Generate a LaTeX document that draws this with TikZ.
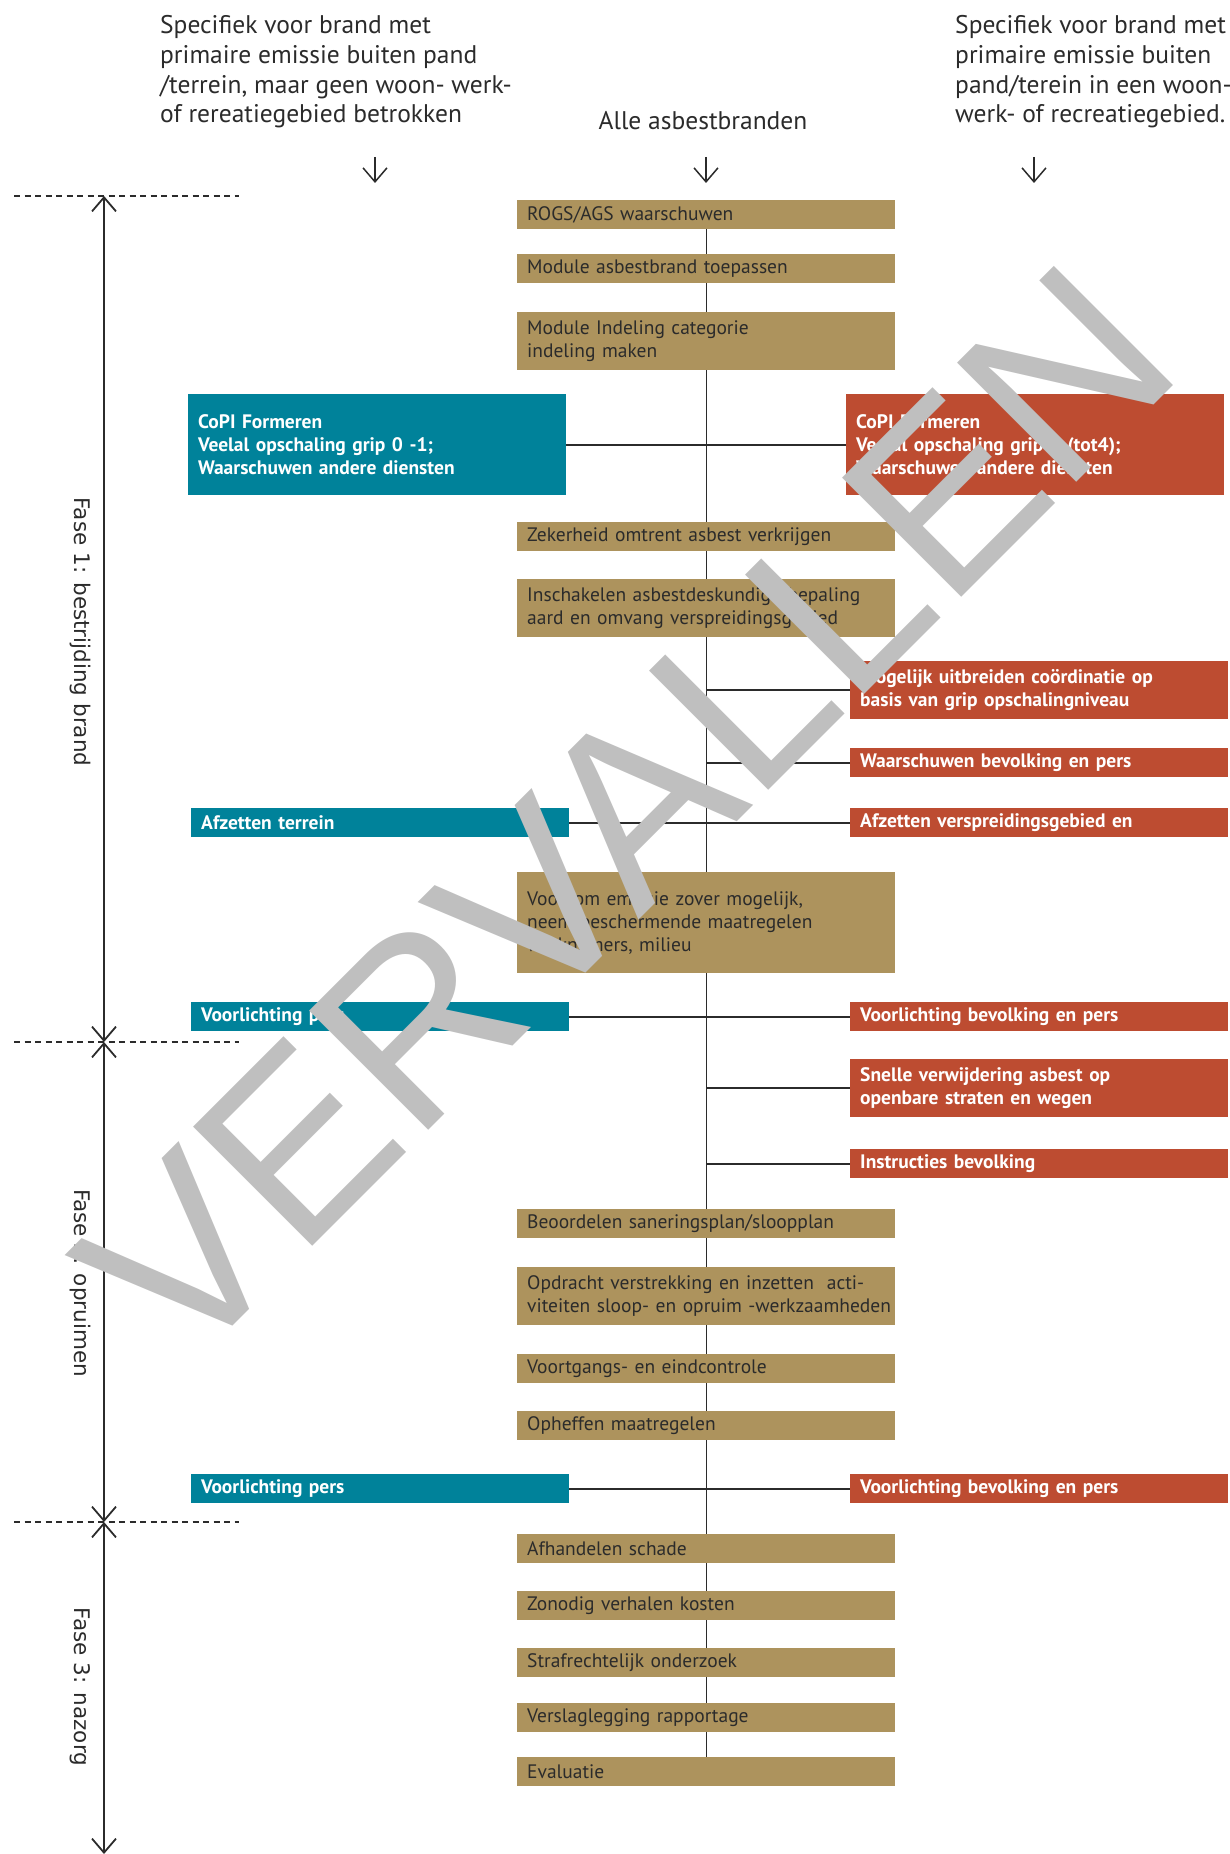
\documentclass[tikz,border=0pt]{standalone}
\usepackage{fontspec}
\setmainfont{PT Sans}
\newfontfamily\fasefont{DejaVu Sans}
\newfontfamily\stempelfont{Liberation Sans}
\usetikzlibrary{arrows.meta, positioning, backgrounds}

\definecolor{goud}{HTML}{AD935D}
\definecolor{petrol}{HTML}{00829A}
\definecolor{steen}{HTML}{BD4C31}
\definecolor{tekst}{HTML}{2B2B2B}
\definecolor{stempel}{HTML}{BFBFBF}

\tikzset{
  blok/.style={anchor=north west, inner xsep=10pt, inner ysep=0pt, text width=358pt,
    align=left, minimum height=29pt, font=\fontsize{19.5}{23}\selectfont},
  goudblok/.style={blok, fill=goud, text=tekst},
  petrolblok/.style={blok, fill=petrol, text=white, font=\bfseries\fontsize{19.5}{23}\selectfont},
  steenblok/.style={blok, fill=steen, text=white, font=\bfseries\fontsize{19.5}{23}\selectfont},
  hoofdlijn/.style={draw=tekst, line width=1.3pt},
  lijn/.style={draw=tekst, line width=2pt},
  faselijn/.style={draw=tekst, line width=1.2pt, dash pattern=on 6pt off 4.5pt},
  faselabel/.style={font=\fasefont\fontsize{21.5}{24}\selectfont, rotate=-90, text=tekst},
  kop/.style={font=\fontsize{25.5}{29.6}\selectfont, text=tekst, align=left, inner sep=0pt},
}

\begin{document}
\begin{tikzpicture}[x=1pt, y=-1pt, >={Straight Barb[length=14pt, width=24pt]}]
    \useasboundingbox (0,0) rectangle (1230,1854);

    % Koppen
    \node[kop, anchor=west] (kop-l) at (160,72) {Specifiek voor brand met\\primaire emissie buiten pand\\/terrein, maar geen woon- werk-\\of rereatiegebied betrokken};
    \node[kop, anchor=center] (kop-m) at (703,121) {Alle asbestbranden};
    \node[kop, anchor=west] (kop-r) at (955,72) {Specifiek voor brand met\\primaire emissie buiten\\pand/terein in een woon-\\werk- of recreatiegebied.};

    \coordinate (p-l) at (375,157);
    \coordinate (p-m) at (706,157);
    \coordinate (p-r) at (1034,157);
    \foreach \p in {p-l, p-m, p-r}
        \draw[->, line width=1.5pt, draw=tekst] (\p) -- ++(0,26);

    % Fasen
    \coordinate (f0) at (104,196);
    \coordinate (f1) at (104,1042);
    \coordinate (f2) at (104,1522);
    \coordinate (f3) at (104,1854);
    \draw[<->, line width=1.8pt, draw=tekst] (f0) -- (f1);
    \draw[<->, line width=1.8pt, draw=tekst] (f1) -- (f2);
    \draw[<->, line width=1.8pt, draw=tekst] (f2) -- (f3);
    \foreach \f in {f0, f1, f2}
        \draw[faselijn] (\f) ++(-90,0) -- ++(225,0);
    \node[faselabel] (fase1) at (80,632) {Fase 1: bestrijding brand};
    \node[faselabel] (fase2) at (80,1283) {Fase 2: opruimen};
    \node[faselabel] (fase3) at (80,1687) {Fase 3: nazorg};

    % Alle asbestbranden
    \node[goudblok] (rogs) at (517,200) {ROGS/AGS waarschuwen};
    \node[goudblok] (module) at (517,254) {Module asbestbrand toepassen};
    \node[goudblok, minimum height=58pt] (indeling) at (517,312) {Module Indeling categorie\\indeling maken};
    \node[goudblok] (zekerheid) at (517,522) {Zekerheid omtrent asbest verkrijgen};
    \node[goudblok, minimum height=58pt] (inschakelen) at (517,579) {Inschakelen asbestdeskundige bepaling\\aard en omvang verspreidingsgebied};
    \node[goudblok, minimum height=101pt] (voorkom) at (517,872) {Voorkom emissie zover mogelijk,\\neem beschermende maatregelen\\werknemers, milieu};
    \node[goudblok] (beoordelen) at (517,1209) {Beoordelen saneringsplan/sloopplan};
    \node[goudblok, minimum height=58pt] (opdracht) at (517,1267) {Opdracht verstrekking en inzetten\ \ acti-\\\mbox{viteiten sloop- en opruim -werkzaamheden}};
    \node[goudblok] (voortgang) at (517,1354) {Voortgangs- en eindcontrole};
    \node[goudblok] (opheffen) at (517,1411) {Opheffen maatregelen};
    \node[goudblok] (schade) at (517,1534) {Afhandelen schade};
    \node[goudblok] (kosten) at (517,1591) {Zonodig verhalen kosten};
    \node[goudblok] (onderzoek) at (517,1648) {Strafrechtelijk onderzoek};
    \node[goudblok] (verslag) at (517,1703) {Verslaglegging rapportage};
    \node[goudblok] (evaluatie) at (517,1757) {Evaluatie};

    % Buiten pand, geen woongebied
    \node[petrolblok, minimum height=101pt] (copi-l) at (188,394) {CoPI Formeren\\Veelal opschaling grip 0 -1;\\Waarschuwen andere diensten};
    \node[petrolblok] (afzetten-l) at (191,808) {Afzetten terrein};
    \node[petrolblok] (pers-l1) at (191,1002) {Voorlichting pers};
    \node[petrolblok] (pers-l2) at (191,1474) {Voorlichting pers};

    % Woon- werk- of recreatiegebied
    \node[steenblok, minimum height=101pt] (copi-r) at (846,394) {CoPI Formeren\\Veelal opschaling grip 2 (tot4);\\Waarschuwen andere diensten};
    \node[steenblok, minimum height=58pt] (mogelijk) at (850,661) {Mogelijk uitbreiden coördinatie op\\basis van grip opschalingniveau};
    \node[steenblok] (waarschuwen) at (850,748) {Waarschuwen bevolking en pers};
    \node[steenblok] (afzetten-r) at (850,808) {Afzetten verspreidingsgebied en};
    \node[steenblok] (pers-r1) at (850,1002) {Voorlichting bevolking en pers};
    \node[steenblok, minimum height=58pt] (snelle) at (850,1059) {Snelle verwijdering asbest op\\openbare straten en wegen};
    \node[steenblok] (instructies) at (850,1149) {Instructies bevolking};
    \node[steenblok] (pers-r2) at (850,1474) {Voorlichting bevolking en pers};

    % Verbindingen
    \begin{scope}[on background layer]
        \draw[hoofdlijn] (rogs.south) -- (evaluatie.north);
        \draw[lijn] (copi-l.east) -- (copi-r.west);
        \draw[lijn] (afzetten-l.east) -- (afzetten-r.west);
        \draw[lijn] (pers-l1.east) -- (pers-r1.west);
        \draw[lijn] (pers-l2.east) -- (pers-r2.west);
        \foreach \r in {mogelijk, waarschuwen, snelle, instructies}
            \draw[lijn] (rogs.south |- \r.west) -- (\r.west);
    \end{scope}

    % Stempel
    \node[font=\stempelfont\fontsize{245}{245}\selectfont, text=stempel, rotate=45,
        anchor=base west, inner sep=0pt] (vervallen) at (183,1376) {VERVALLEN};
\end{tikzpicture}
\end{document}
